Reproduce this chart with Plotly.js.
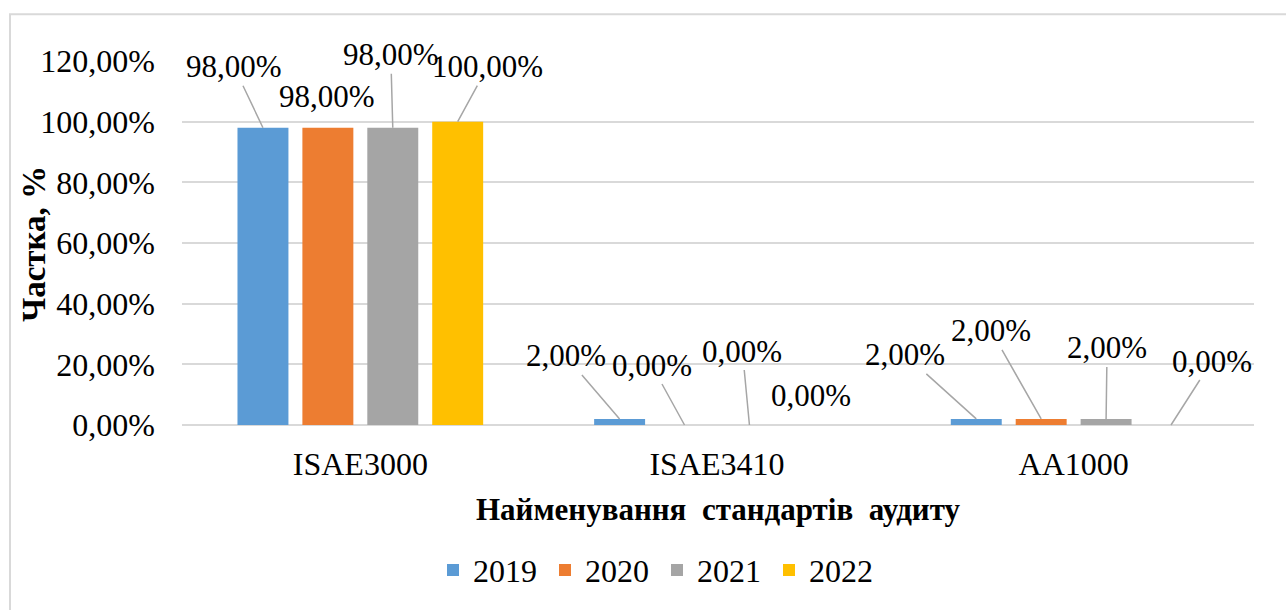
<!DOCTYPE html>
<html>
<head>
<meta charset="utf-8">
<script src="https://cdn.plot.ly/plotly-3.0.1.min.js"></script>
<style>html,body{margin:0;padding:0;background:#fff;}#chart{width:1286px;height:610px;}</style>
</head>
<body>
<div id="chart"></div>
<script>
// ---- data ----
const categories = ["ISAE3000", "ISAE3410", "AA1000"];
const years = ["2019", "2020", "2021", "2022"];
const values2019 = [98, 2, 2];
const values2020 = [98, 0, 2];
const values2021 = [98, 0, 2];
const values2022 = [100, 0, 0];
const yTickValues = [0, 20, 40, 60, 80, 100, 120];

// ---- styling / label placement (not data) ----
const seriesValues = [values2019, values2020, values2021, values2022];
const colors = ["#5B9BD5", "#ED7D31", "#A5A5A5", "#FFC000"];
// pixel offsets of each data label from its bar top [series][category]
const labelOffsets = [
  [[-29, -61], [-54, -63], [-71, -64]],
  [[-1, -31], [-33, -60], [-50, -88]],
  [[-2, -73], [-7, -74], [1, -71]],
  [[30, -55], [-3, -30], [41, -64]]
];
// which labels have a leader line
const showLeader = [
  [true, true, true],
  [false, true, true],
  [true, true, true],
  [true, false, true]
];
const FONT = 'Liberation Serif, Times New Roman, serif';
const bargap = 0.272;
const slot = (1 - bargap) / years.length;

function fmt(v) { return v.toFixed(2).replace('.', ',') + '%'; }

const traces = years.map((yr, j) => ({
  type: 'bar',
  name: yr,
  x: categories,
  y: seriesValues[j],
  marker: { color: colors[j] },
  hoverinfo: 'x+y+name'
}));

const L = 182, R = 32, T = 61, B = 183, W = 1286, H = 610;
const pw = W - L - R, ph = H - T - B;

const annotations = [];
years.forEach((yr, j) => {
  categories.forEach((c, i) => {
    const v = seriesValues[j][i];
    const xpos = i + (j - (years.length - 1) / 2) * slot;
    const off = labelOffsets[j][i];
    const a = {
      x: xpos, y: v, xref: 'x', yref: 'y',
      text: fmt(v),
      font: { family: FONT, size: 31, color: '#000' },
    };
    if (showLeader[j][i]) {
      Object.assign(a, { showarrow: true, arrowhead: 0, arrowwidth: 1.5, arrowcolor: '#A6A6A6', ax: off[0], ay: off[1], standoff: 0 });
    } else {
      Object.assign(a, { showarrow: false, xshift: off[0], yshift: -off[1] });
    }
    annotations.push(a);
  });
});
// y-axis title (placed as annotation so it can sit close to the tick labels)
annotations.push({
  xref: 'paper', yref: 'paper', x: (34 - L) / pw, y: (H - B - 245) / ph,
  xanchor: 'center', yanchor: 'middle', showarrow: false, textangle: -90,
  text: 'Частка, %',
  font: { family: FONT, size: 33, color: '#000', weight: 'bold' }
});

const layout = {
  width: W, height: H,
  margin: { l: L, r: R, t: T, b: B, pad: 0 },
  paper_bgcolor: '#fff', plot_bgcolor: '#fff',
  barmode: 'group',
  bargap: bargap,
  bargroupgap: 0.215,
  font: { family: FONT, color: '#000', size: 32 },
  showlegend: true,
  legend: {
    orientation: 'h', x: (433 - L) / pw, xanchor: 'left',
    y: (H - B - 573) / ph, yanchor: 'middle',
    font: { family: FONT, size: 32, color: '#000' },
    traceorder: 'normal', itemwidth: 30,
    entrywidth: 67, entrywidthmode: 'pixels'
  },
  xaxis: {
    type: 'category',
    tickfont: { family: FONT, size: 32, color: '#000' },
    ticks: '', showline: false, showgrid: false,
    ticklabelstandoff: 17,
    title: { text: 'Найменування  стандартів  аудиту', font: { family: FONT, size: 31, color: '#000', weight: 'bold' }, standoff: 17 },
    automargin: false
  },
  yaxis: {
    range: [0, 120],
    tickmode: 'array',
    tickvals: yTickValues,
    ticktext: yTickValues.map(fmt),
    tickfont: { family: FONT, size: 32, color: '#000' },
    gridcolor: '#D9D9D9', gridwidth: 2,
    zeroline: true, zerolinecolor: '#D9D9D9', zerolinewidth: 2,
    showline: false, ticks: '',
    ticklabelstandoff: 26,
    automargin: false
  },
  annotations: annotations,
  shapes: [{
    type: 'rect', xref: 'paper', yref: 'paper', layer: 'below',
    x0: (10 - L) / pw, x1: (W + 20 - L) / pw,
    y0: (H - B - (H + 20)) / ph, y1: (H - B - 14) / ph,
    line: { color: '#D9D9D9', width: 2 }, fillcolor: 'rgba(0,0,0,0)'
  }]
};

Plotly.newPlot('chart', traces, layout, { displayModeBar: false, staticPlot: true });
</script>
</body>
</html>
